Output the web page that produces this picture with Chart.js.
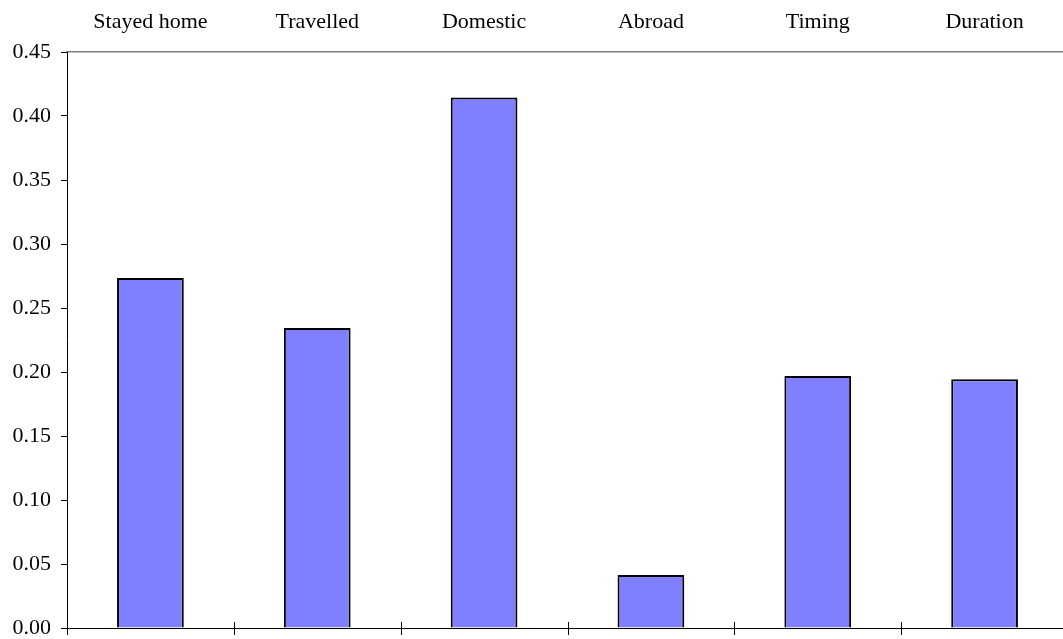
<!DOCTYPE html>
<html>
<head>
<meta charset="utf-8">
<script src="https://cdn.jsdelivr.net/npm/chart.js@4"></script>
<style>
  html, body { margin: 0; padding: 0; background: #fff; overflow: hidden; }
  canvas { display: block; }
</style>
</head>
<body>
<canvas id="c" width="1068" height="639"></canvas>
<script>
const categories = ["Stayed home", "Travelled", "Domestic", "Abroad", "Timing", "Duration"];
const values = [0.2734, 0.2344, 0.4145, 0.0414, 0.1969, 0.1943];
const yTickValues = [0, 0.05, 0.10, 0.15, 0.20, 0.25, 0.30, 0.35, 0.40, 0.45];

const FONT = { family: "'Liberation Serif', 'Times New Roman', serif", size: 22 };

const crossTicks = {
  id: 'crossTicks',
  afterDraw(chart) {
    const xs = chart.scales.x;
    const ctx = chart.ctx;
    const bottom = chart.chartArea.bottom;
    ctx.save();
    ctx.strokeStyle = '#000';
    ctx.lineWidth = 1;
    for (let i = 0; i <= categories.length; i++) {
      const x = Math.round((xs.getPixelForValue(i) + xs.getPixelForValue(i - 1)) / 2) + 0.5;
      ctx.beginPath();
      ctx.moveTo(x, bottom - 6);
      ctx.lineTo(x, bottom + 7);
      ctx.stroke();
    }
    ctx.restore();
  }
};

new Chart(document.getElementById('c'), {
  type: 'bar',
  data: {
    labels: categories,
    datasets: [{
      data: values,
      backgroundColor: '#8080FF',
      borderColor: '#000000',
      borderWidth: 2,
      barPercentage: 0.4,
      categoryPercentage: 1.0
    }]
  },
  options: {
    responsive: false,
    animation: false,
    layout: { padding: 0 },
    plugins: { legend: { display: false }, tooltip: { enabled: false } },
    scales: {
      x: {
        type: 'category',
        position: 'bottom',
        offset: true,
        grid: { display: false, offset: true },
        ticks: { display: false },
        border: { display: true, color: '#000', width: 1 },
        afterFit(s) { s.height = 11; s.paddingLeft = 0; s.paddingRight = 0; }
      },
      x2: {
        type: 'category',
        labels: categories,
        position: 'top',
        offset: true,
        grid: { display: false, drawTicks: false },
        ticks: { color: '#000', font: FONT, padding: 17, maxRotation: 0, autoSkip: false },
        border: { display: true, color: '#808080', width: 1.5 },
        afterFit(s) { s.height = 52; s.paddingLeft = 0; s.paddingRight = 0; }
      },
      y: {
        min: 0,
        max: 0.45,
        afterBuildTicks(s) { s.ticks = yTickValues.map(v => ({ value: v })); },
        ticks: {
          color: '#000',
          font: FONT,
          padding: 10,
          callback: v => Number(v).toFixed(2)
        },
        grid: { drawOnChartArea: false, drawTicks: true, tickLength: 6, color: '#000' },
        border: { display: true, color: '#000', width: 1 },
        afterFit(s) { s.width = 67; s.paddingTop = 0; s.paddingBottom = 0; }
      }
    }
  },
  plugins: [crossTicks]
});
</script>
</body>
</html>
